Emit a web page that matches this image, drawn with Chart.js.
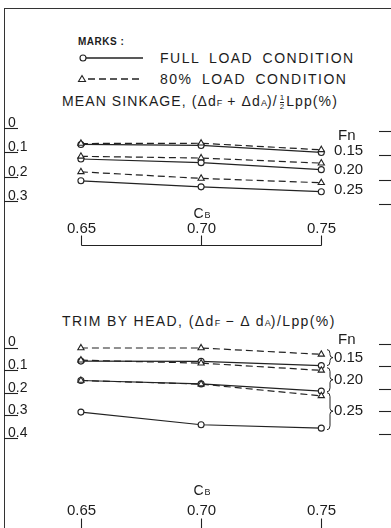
<!DOCTYPE html>
<html>
<head>
<meta charset="utf-8">
<script src="https://cdn.jsdelivr.net/npm/chart.js@4.4.1/dist/chart.umd.min.js"></script>
<style>
  html, body { margin: 0; padding: 0; background: #fff; }
  body {
    width: 391px; height: 528px; position: relative; overflow: hidden;
    font-family: 'Liberation Sans', Arial, sans-serif; color: #1c1c1c;
  }
  .frame {
    position: absolute; left: 4px; top: 8px; width: 400px; height: 530px;
    border-top: 1.5px solid #333; border-left: 1.5px solid #333;
  }
  .txt { position: absolute; white-space: nowrap; line-height: 1; }
  .marks { left: 78px; top: 37px; font-size: 10px; font-weight: bold; letter-spacing: 0.5px; }
  .key { font-size: 14px; letter-spacing: 1.5px; word-spacing: 4px; }
  .title { font-size: 14px; letter-spacing: 1.1px; }
  .title.trim { letter-spacing: 1.4px; }
  .sc { font-size: 9px; letter-spacing: 0; }
  .frac { display: inline-block; vertical-align: middle; font-size: 8px; text-align: center; line-height: 8px; margin: 0 2px; letter-spacing: 0; }
  .frac span { display: block; }
  .frac span:first-child { border-bottom: 1px solid #1c1c1c; }
  canvas { position: absolute; left: 0; }
  #sinkChart { top: 104px; }
  #trimChart { top: 325px; }
</style>
</head>
<body>
<div class="frame"></div>

<div class="txt marks">MARKS :</div>
<svg style="position:absolute;left:76px;top:50px" width="70" height="36">
  <line x1="10" y1="8" x2="67" y2="8" stroke="#222" stroke-width="1.3"/>
  <circle cx="7" cy="8" r="3" fill="#fff" stroke="#222" stroke-width="1.1"/>
  <line x1="12" y1="29" x2="67" y2="29" stroke="#222" stroke-width="1.3" stroke-dasharray="7 4"/>
  <polygon points="6,25.5 9.5,31.5 2.5,31.5" fill="#fff" stroke="#222" stroke-width="1.1"/>
</svg>
<div class="txt key" style="left:160px;top:51px">FULL LOAD CONDITION</div>
<div class="txt key" style="left:160px;top:72px">80% LOAD CONDITION</div>
<div class="txt title" style="left:62px;top:94px">MEAN SINKAGE, (&Delta;d<span class="sc">F</span> + &Delta;d<span class="sc">A</span>)/<span class="frac"><span>1</span><span>2</span></span>Lpp(%)</div>
<div class="txt title trim" style="left:62px;top:314px">TRIM BY HEAD, (&Delta;d<span class="sc">F</span> &minus; &Delta; d<span class="sc">A</span>)/Lpp(%)</div>

<canvas id="sinkChart" width="391" height="142"></canvas>
<canvas id="trimChart" width="391" height="204"></canvas>

<script>
// block coefficient stations and Froude numbers
const cbValues = [0.65, 0.70, 0.75];
const fnLabels = ['0.15', '0.20', '0.25'];
const sinkTicks = [0, 0.1, 0.2, 0.3];
const trimTicks = [0, 0.1, 0.2, 0.3, 0.4];

// mean sinkage (%), full load condition
const sinkFull015 = [0.067, 0.071, 0.100];
const sinkFull020 = [0.127, 0.142, 0.171];
const sinkFull025 = [0.217, 0.242, 0.262];
// mean sinkage (%), 80% load condition
const sink80015 = [0.063, 0.062, 0.089];
const sink80020 = [0.116, 0.123, 0.144];
const sink80025 = [0.180, 0.207, 0.225];

// trim by head (%), full load condition
const trimFull015 = [0.060, 0.061, 0.080];
const trimFull020 = [0.146, 0.161, 0.193];
const trimFull025 = [0.286, 0.342, 0.357];
// trim by head (%), 80% load condition
const trim80015 = [0.002, 0.002, 0.030];
const trim80020 = [0.056, 0.069, 0.101];
const trim80025 = [0.146, 0.162, 0.214];

const INK = '#222';
const FONT = '"Liberation Sans", Arial, sans-serif';

function series(label, values, full) {
  return {
    label: label,
    data: values.map((v, i) => ({ x: cbValues[i], y: v })),
    borderColor: INK,
    borderWidth: 1.2,
    borderDash: full ? [] : [7, 4],
    pointStyle: full ? 'circle' : 'triangle',
    pointRadius: full ? 3 : 3.6,
    pointBackgroundColor: '#fff',
    pointBorderColor: INK,
    pointBorderWidth: 1.1,
    tension: 0
  };
}

function line(ctx, x1, y1, x2, y2) {
  ctx.beginPath();
  ctx.moveTo(x1, y1);
  ctx.lineTo(x2, y2);
  ctx.stroke();
}

// axis furniture: tick underlines, Cb axis with upward ticks, Fn notes
const decor = {
  id: 'decor',
  afterDraw(chart, args, opts) {
    const { ctx, chartArea, scales: { x, y } } = chart;
    ctx.save();
    ctx.strokeStyle = INK;
    ctx.fillStyle = '#1c1c1c';
    ctx.lineWidth = 1.1;

    opts.ticks.forEach(v => {
      const py = Math.round(y.getPixelForValue(v)) + 0.5;
      line(ctx, chartArea.left, py, chartArea.left + 14, py);
      line(ctx, chartArea.right - 12, py + opts.dashShift, chartArea.right, py + opts.dashShift);
    });

    const base = chartArea.bottom - 0.5;
    const xs = cbValues.map(v => Math.round(x.getPixelForValue(v)) + 0.5);
    if (opts.baseline) line(ctx, xs[0], base, xs[xs.length - 1], base);
    xs.forEach(px => line(ctx, px, base - 10, px, base));

    ctx.textAlign = 'center';
    ctx.textBaseline = 'alphabetic';
    ctx.font = '15px ' + FONT;
    cbValues.forEach((v, i) => ctx.fillText(v.toFixed(2), xs[i], base - opts.labelGap));
    const mid = xs[1];
    ctx.font = '14px ' + FONT;
    ctx.fillText('C', mid - 3, base - opts.cbGap);
    ctx.font = '9px ' + FONT;
    ctx.fillText('B', mid + 6, base - opts.cbGap);

    // Froude number notes at the right
    ctx.textAlign = 'left';
    ctx.textBaseline = 'middle';
    ctx.font = '15px ' + FONT;
    ctx.fillText('Fn', opts.fnX + 4, y.getPixelForValue(opts.fnAt));
    opts.notes.forEach((at, i) => {
      ctx.fillText(fnLabels[i], opts.fnX, y.getPixelForValue(at));
    });
    if (opts.braces) {
      ctx.lineWidth = 1;
      opts.braces.forEach(([a, b]) => {
        const y1 = y.getPixelForValue(a), y2 = y.getPixelForValue(b);
        const ym = (y1 + y2) / 2, bx = opts.fnX - 4;
        ctx.beginPath();
        ctx.moveTo(bx - 3, y1);
        ctx.quadraticCurveTo(bx, y1, bx, y1 + 4);
        ctx.lineTo(bx, ym - 3);
        ctx.quadraticCurveTo(bx, ym, bx + 3, ym);
        ctx.quadraticCurveTo(bx, ym, bx, ym + 3);
        ctx.lineTo(bx, y2 - 4);
        ctx.quadraticCurveTo(bx, y2, bx - 3, y2);
        ctx.stroke();
      });
    }
    ctx.restore();
  }
};

function makeChart(id, datasets, yMax, ticks, plot) {
  return new Chart(document.getElementById(id), {
    type: 'line',
    data: { datasets: datasets },
    options: {
      responsive: false,
      animation: false,
      events: [],
      layout: { autoPadding: false, padding: { left: 4, right: 0, top: 0, bottom: 0 } },
      plugins: { legend: { display: false }, tooltip: { enabled: false }, decor: plot },
      scales: {
        x: { type: 'linear', display: false, min: 0.618, max: 0.779 },
        y: {
          type: 'linear',
          reverse: true,
          min: -0.1,
          max: yMax,
          afterBuildTicks: s => { s.ticks = ticks.map(v => ({ value: v })); },
          // labels sit inside the frame, so the axis takes no room of its own
          afterFit: s => { s.width = 0; s.paddingTop = 0; s.paddingBottom = 0; },
          grid: { display: false },
          border: { display: false },
          ticks: {
            mirror: true,
            padding: 4,
            labelOffset: -5,
            color: '#1c1c1c',
            font: { family: FONT, size: 14 },
            callback: v => (v === 0 ? '0' : v.toFixed(1))
          }
        }
      }
    },
    plugins: [decor]
  });
}

makeChart('sinkChart', [
  series('Fn 0.15 80%', sink80015, false),
  series('Fn 0.20 80%', sink80020, false),
  series('Fn 0.25 80%', sink80025, false),
  series('Fn 0.15 full', sinkFull015, true),
  series('Fn 0.20 full', sinkFull020, true),
  series('Fn 0.25 full', sinkFull025, true)
], 0.486, sinkTicks, {
  ticks: sinkTicks, baseline: true, dashShift: 3, labelGap: 13, cbGap: 28,
  fnX: 334, fnAt: 0.032,
  notes: [0.094, 0.173, 0.255]
});

makeChart('trimChart', [
  series('Fn 0.15 80%', trim80015, false),
  series('Fn 0.20 80%', trim80020, false),
  series('Fn 0.25 80%', trim80025, false),
  series('Fn 0.15 full', trimFull015, true),
  series('Fn 0.20 full', trimFull020, true),
  series('Fn 0.25 full', trimFull025, true)
], 0.804, trimTicks, {
  ticks: trimTicks, baseline: false, dashShift: -4, labelGap: 14, cbGap: 34,
  fnX: 334, fnAt: -0.036,
  notes: [0.046, 0.143, 0.28],
  braces: [[0.009, 0.080], [0.089, 0.196], [0.2, 0.364]]
});
</script>
</body>
</html>
